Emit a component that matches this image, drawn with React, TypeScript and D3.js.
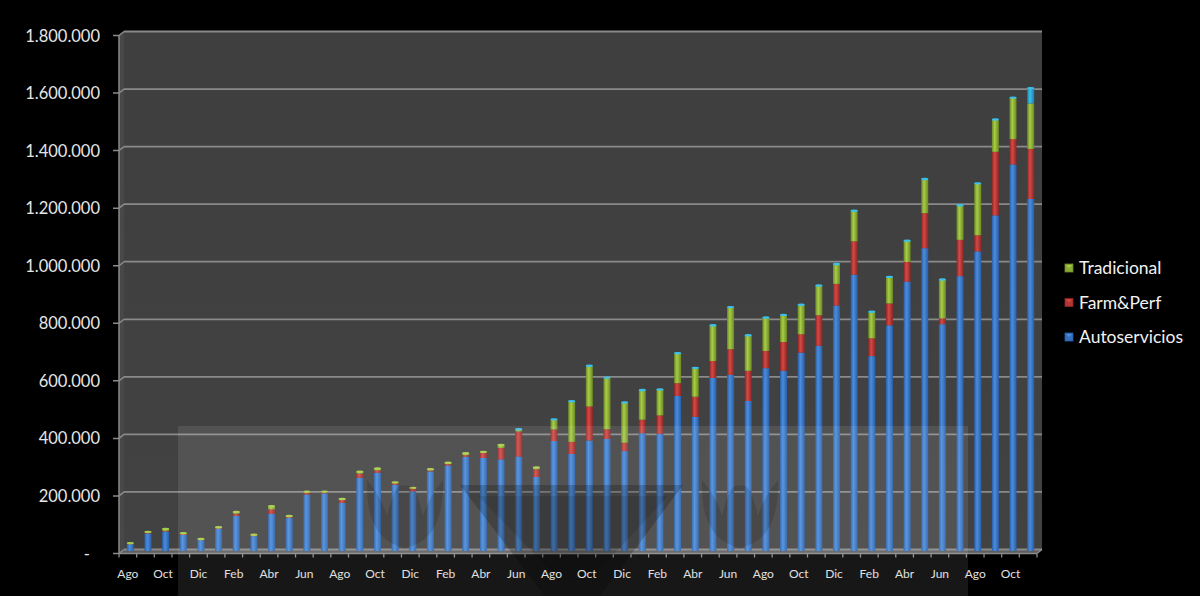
import React from "react";
import * as d3 from "d3";

// Monthly sales by channel (units), starting in August
const months = ["Ago", "Sep", "Oct", "Nov", "Dic", "Ene", "Feb", "Mar", "Abr", "May", "Jun", "Jul"];
const autoservicios = [
  20000, 57000, 64000, 53000, 34000, 74000, 117000, 48000, 124000, 110000, 191000, 195000,
  162000, 249000, 267000, 225000, 202000, 271000, 292000, 322000, 318000, 313000, 323000, 252000,
  377000, 332000, 379000, 384000, 342000, 404000, 402000, 534000, 461000, 596000, 607000, 516000,
  630000, 621000, 684000, 708000, 848000, 955000, 672000, 779000, 931000, 1047000, 783000, 950000,
  1036000, 1161000, 1338000, 1218000,
];
const farmPerf = [
  1000, 1000, 1000, 1000, 1000, 1000, 8000, 1000, 15000, 4000, 6000, 4000,
  10000, 15000, 8000, 5000, 10000, 4000, 5000, 6000, 18000, 40000, 87000, 27000,
  40000, 42000, 118000, 34000, 29000, 47000, 64000, 44000, 70000, 59000, 89000, 105000,
  60000, 100000, 64000, 106000, 75000, 116000, 62000, 76000, 68000, 122000, 20000, 126000,
  56000, 221000, 88000, 174000,
];
const tradicional = [
  3000, 5000, 8000, 4000, 3000, 4000, 7000, 4000, 13000, 4000, 6000, 4000,
  5000, 8000, 8000, 5000, 4000, 6000, 6000, 8000, 5000, 12000, 7000, 8000,
  34000, 140000, 140000, 178000, 139000, 102000, 89000, 103000, 99000, 123000, 145000, 122000,
  115000, 93000, 101000, 102000, 68000, 105000, 91000, 91000, 73000, 117000, 134000, 119000,
  179000, 111000, 143000, 158000,
];
const otros = [
  0, 0, 0, 0, 0, 0, 0, 0, 0, 0, 0, 0,
  0, 0, 0, 0, 0, 0, 0, 0, 0, 0, 3000, 0,
  3000, 3000, 3000, 3000, 3000, 3000, 3000, 3000, 3000, 3000, 3000, 3000,
  3000, 3000, 3000, 3000, 3000, 3000, 3000, 3000, 3000, 3000, 3000, 3000,
  3000, 3000, 3000, 55000,
];
const yTicks = [0, 200000, 400000, 600000, 800000, 1000000, 1200000, 1400000, 1600000, 1800000];
const seriesKeys = ["autoservicios", "farmPerf", "tradicional", "otros"];
const legendItems = [
  { key: "tradicional", label: "Tradicional" },
  { key: "farmPerf", label: "Farm&Perf" },
  { key: "autoservicios", label: "Autoservicios" },
];

const palette: Record<string, [string, string, string]> = {
  autoservicios: ["#2a5ea8", "#4a8ddc", "#3470bf"],
  farmPerf: ["#8e2424", "#d24a45", "#b33535"],
  tradicional: ["#6a8a22", "#a9cc48", "#89ab35"],
  otros: ["#1a7fae", "#3cc0ea", "#28a2d4"],
};

const W = 1200;
const H = 596;
const FONT = "Lato, 'Open Sans', sans-serif";

// 3D geometry: back wall and front edge are offset by a small depth
const frontLeft = 119;
const frontRight = 1037;
const depthX = 5;
const depthY = 4;
const floorBack = 549.5;

// simplified lotus emblem of the background logo
function lotus(cx: number, cy: number) {
  const p = d3.path();
  p.moveTo(cx - 38, cy - 30);
  p.quadraticCurveTo(cx - 40, cy + 30, cx, cy + 38);
  p.quadraticCurveTo(cx + 40, cy + 30, cx + 38, cy - 30);
  p.quadraticCurveTo(cx + 22, cy - 10, cx + 18, cy + 6);
  p.quadraticCurveTo(cx + 10, cy - 30, cx, cy - 24);
  p.quadraticCurveTo(cx - 10, cy - 30, cx - 18, cy + 6);
  p.quadraticCurveTo(cx - 22, cy - 10, cx - 38, cy - 30);
  p.closePath();
  return p.toString();
}

export default function App() {
  const n = autoservicios.length;
  const rows = autoservicios.map((v, i) => ({
    autoservicios: v,
    farmPerf: farmPerf[i],
    tradicional: tradicional[i],
    otros: otros[i],
  }));
  const stacked = d3.stack<any>().keys(seriesKeys)(rows);

  const x = d3.scaleBand<number>().domain(d3.range(n)).range([frontLeft, frontRight]).paddingInner(0).paddingOuter(0);
  const y = d3.scaleLinear().domain([0, 1800000]).range([floorBack, 31.5]);
  const barW = 7;
  const barShift = 2.5;
  const barBottom = floorBack + 1.5;

  const backLeft = frontLeft + depthX;
  const backRight = frontRight + depthX;
  const top = y(1800000);

  return (
    <svg width={W} height={H} style={{ position: "absolute", left: 0, top: 0, display: "block" }}>
      <defs>
        {seriesKeys.map((k) => (
          <linearGradient key={k} id={`g-${k}`} x1="0" x2="1" y1="0" y2="0">
            <stop offset="0" stopColor={palette[k][0]} />
            <stop offset="0.4" stopColor={palette[k][1]} />
            <stop offset="1" stopColor={palette[k][0]} />
          </linearGradient>
        ))}
        <linearGradient id="wall" x1="0" x2="0" y1="0" y2="1">
          <stop offset="0" stopColor="#3f3f3f" />
          <stop offset="1" stopColor="#424242" />
        </linearGradient>
      </defs>
      <rect x={0} y={0} width={W} height={H} fill="#000" />

      {/* back wall */}
      <rect x={backLeft} y={top} width={backRight - backLeft} height={floorBack - top} fill="url(#wall)" />
      {/* side wall */}
      <polygon
        points={`${frontLeft},${top + depthY} ${backLeft},${top} ${backLeft},${floorBack} ${frontLeft},${floorBack + depthY}`}
        fill="#484848"
      />
      {/* floor */}
      <polygon
        points={`${frontLeft},${floorBack + depthY} ${backLeft},${floorBack} ${backRight},${floorBack} ${frontRight},${floorBack + depthY}`}
        fill="#5e5e5e"
      />

      {/* gridlines and left ticks */}
      {yTicks.map((t) => (
        <g key={t}>
          <line x1={backLeft} x2={backRight} y1={y(t)} y2={y(t)} stroke="#8a8a8a" strokeWidth={1.8} />
          <polyline
            points={`${frontLeft - 6},${y(t) + depthY} ${frontLeft},${y(t) + depthY} ${backLeft},${y(t)}`}
            fill="none"
            stroke="#8a8a8a"
            strokeWidth={1.5}
          />
          <text
            x={t === 0 ? 90 : 100}
            y={y(t) + depthY + 6}
            textAnchor="end"
            fontFamily={FONT}
            fontSize={16.5}
            fill="#e6e6e6"
          >
            {t === 0 ? "-" : d3.format(",")(t).replace(/,/g, ".")}
          </text>
        </g>
      ))}
      <line x1={frontLeft} x2={frontLeft} y1={top + depthY} y2={floorBack + depthY} stroke="#8a8a8a" strokeWidth={1.5} />
      <line x1={frontLeft} x2={frontRight} y1={floorBack + depthY} y2={floorBack + depthY} stroke="#8a8a8a" strokeWidth={1.5} />
      <line x1={frontRight} x2={backRight} y1={floorBack + depthY} y2={floorBack} stroke="#8a8a8a" strokeWidth={1.2} />
      {d3.range(n + 1).map((i) => {
        const xx = frontLeft + i * x.bandwidth();
        return <line key={i} x1={xx} x2={xx} y1={floorBack + depthY} y2={floorBack + depthY + 4} stroke="#8a8a8a" strokeWidth={1.3} />;
      })}

      {/* stacked bars */}
      {stacked.map((s) => (
        <g key={s.key}>
          {s.map((d, i) => {
            if (d[1] - d[0] <= 0) return null;
            const cx = (x(i) as number) + x.bandwidth() / 2 + barShift;
            const y0 = d[0] === 0 ? barBottom : y(d[0]);
            const y1 = y(d[1]);
            return (
              <rect
                key={i}
                x={cx - barW / 2}
                y={y1}
                width={barW}
                height={Math.max(0.8, y0 - y1)}
                fill={`url(#g-${s.key})`}
              />
            );
          })}
        </g>
      ))}
      {/* rounded top caps */}
      {rows.map((r, i) => {
        const last = [...stacked].reverse().find((s) => s[i][1] - s[i][0] > 0)!;
        const cx = (x(i) as number) + x.bandwidth() / 2 + barShift;
        return (
          <ellipse key={i} cx={cx} cy={y(last[i][1]) + 0.5} rx={barW / 2} ry={1.2} fill={palette[last.key][1]} />
        );
      })}

      {/* background logo watermark */}
      <g pointerEvents="none">
        <rect x={178} y={426} width={790} height={H - 426} fill="#fff" opacity={0.09} />
        <polygon points="460,485 683,485 600,596 545,596" fill="#000" opacity={0.2} />
        <polygon points="478,496 668,496 590,580 560,580" fill="#000" opacity={0.1} />
        <path d={lotus(405, 510)} fill="#000" opacity={0.13} />
        <path d={lotus(740, 510)} fill="#000" opacity={0.13} />
      </g>

      {/* x labels */}
      {d3.range(0, n, 2).map((i) => (
        <text
          key={i}
          x={(x(i) as number) + x.bandwidth() / 2}
          y={578}
          textAnchor="middle"
          fontFamily={FONT}
          fontSize={12}
          fill="#e0e0e0"
        >
          {months[i % 12]}
        </text>
      ))}

      {/* legend */}
      {legendItems.map((it, j) => {
        const ly = 268 + j * 34.5;
        return (
          <g key={it.key}>
            <rect x={1065} y={ly - 4} width={8} height={8} fill={palette[it.key][2]} stroke={palette[it.key][0]} strokeWidth={0.8} />
            <polygon points={`${1066},${ly - 3} ${1072},${ly - 3} ${1069},${ly}`} fill={palette[it.key][1]} />
            <text x={1079} y={ly + 6} fontFamily={FONT} fontSize={17.5} fill="#f2f2f2">
              {it.label}
            </text>
          </g>
        );
      })}
    </svg>
  );
}
